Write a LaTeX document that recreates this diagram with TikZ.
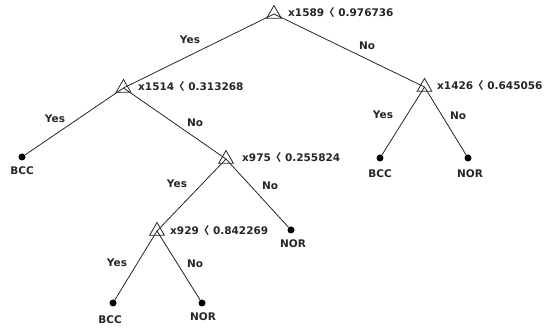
\documentclass[tikz,border=0pt]{standalone}
\usepackage{fontspec}
\setmainfont{DejaVu Sans}
\newfontfamily\cjk{Noto Sans CJK SC}
\usetikzlibrary{shapes.geometric}
\newcommand{\lt}{{\cjk 〈}\hspace{0.35em}}
\begin{document}
\begin{tikzpicture}[x=1pt,y=-1pt,
  every node/.style={font=\fontsize{10.5}{12}\selectfont\bfseries, text=black!85, inner sep=0pt},
  split/.style={regular polygon, regular polygon sides=3, draw=black!85, line width=0.8pt, minimum size=17pt, inner sep=0pt},
  leaf/.style={circle, fill=black, minimum size=7pt, inner sep=0pt},
  edge/.style={draw=black!85, line width=0.8pt},
  rule/.style={anchor=west}
]
\useasboundingbox (0,0) rectangle (555,331);
% split nodes
\coordinate (r) at (274,14);
\coordinate (a) at (123.5,88);
\coordinate (b) at (424.5,87);
\coordinate (c) at (226,159);
\coordinate (d) at (157,231);
% leaves
\node[leaf] (l1) at (22,157) {};
\node[leaf] (l2) at (380,158) {};
\node[leaf] (l3) at (468,158) {};
\node[leaf] (l4) at (291,230) {};
\node[leaf] (l5) at (113,303) {};
\node[leaf] (l6) at (202,303) {};
% edges
\draw[edge] (r) -- (a);
\draw[edge] (r) -- (b);
\draw[edge] (a) -- (l1);
\draw[edge] (a) -- (c);
\draw[edge] (b) -- (l2);
\draw[edge] (b) -- (l3);
\draw[edge] (c) -- (d);
\draw[edge] (c) -- (l4);
\draw[edge] (d) -- (l5);
\draw[edge] (d) -- (l6);
% triangles
\node[split] (rt) at (r) {};
\node[split] (at) at (a) {};
\node[split] (bt) at (b) {};
\node[split] (ct) at (c) {};
\node[split] (dt) at (d) {};
% rules
\node[rule] (rr) at (288,13) {x1589\lt 0.976736};
\node[rule] (ar) at (138,87) {x1514\lt 0.313268};
\node[rule] (br) at (437,85.5) {x1426\lt 0.645056};
\node[rule] (cr) at (242,158) {x975\lt 0.255824};
\node[rule] (dr) at (170,231) {x929\lt 0.842269};
% leaf labels
\node (t1) at (22,171) {BCC};
\node (t2) at (380,174) {BCC};
\node (t3) at (470,174) {NOR};
\node (t4) at (293,244) {NOR};
\node (t5) at (110,320) {BCC};
\node (t6) at (203,317) {NOR};
% branch labels
\node (y1) at (190,40) {Yes};
\node (n1) at (367,46) {No};
\node (y2) at (55,119) {Yes};
\node (n2) at (195,123) {No};
\node (y3) at (383,115) {Yes};
\node (n3) at (458,116) {No};
\node (y4) at (177,184) {Yes};
\node (n4) at (270,186) {No};
\node (y5) at (117,263) {Yes};
\node (n5) at (195,264) {No};
\end{tikzpicture}
\end{document}
